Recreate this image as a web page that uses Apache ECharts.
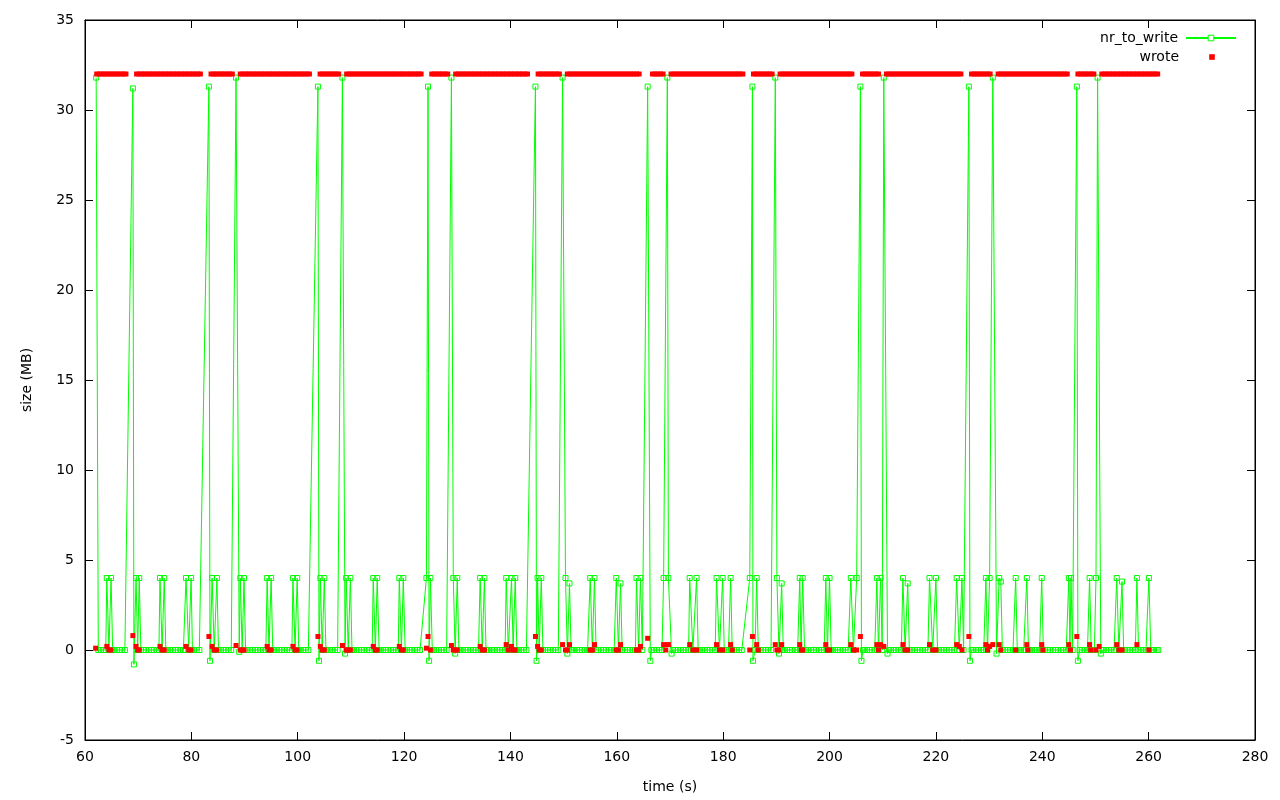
<!DOCTYPE html>
<html><head><meta charset="utf-8">
<script src="https://cdn.jsdelivr.net/npm/echarts@6/dist/echarts.min.js"></script>
<style>html,body{margin:0;padding:0;background:#fff}#c{width:1280px;height:800px}</style>
</head><body><div id="c"></div>
<script>
// axis ranges / ticks
const xRange = [60, 280, 20];
const yRange = [-5, 35, 5];
const seriesNames = ['nr_to_write', 'wrote'];

// nr_to_write (MB) : [time s, value]
const nrToWrite = [
[62.1,31.8],[62.5,0],[63.0,0],[63.5,0],[63.9,0],[64.1,4],[64.5,0],[64.9,4],[65.2,0],[65.5,0],[66.0,0],[66.5,0],[67.0,0],[67.5,0],
[69.0,31.2],[69.2,-0.8],[69.6,4],[69.9,0],[70.2,4],[70.5,0],[71.0,0],[71.5,0],[72.0,0],[72.5,0],[73.0,0],[73.5,0],[73.9,0],
[74.1,4],[74.5,0],[74.9,4],[75.2,0],[75.5,0],[76.0,0],[76.5,0],[77.0,0],[77.5,0],[78.0,0],[78.5,0],[78.8,0],
[79.0,4],[79.5,0],[79.95,4],[80.2,0],[80.5,0],[81.0,0],[81.5,0],
[83.3,31.3],[83.5,-0.6],[83.9,4],[84.3,0],[84.8,4],[85.1,0],[85.5,0],[86.0,0],[86.5,0],[87.0,0],[87.5,0],
[88.4,31.8],[89.0,-0.1],[89.2,4],[89.55,0],[89.9,4],[90.2,0],[90.5,0],[91.0,0],[91.5,0],[92.0,0],[92.5,0],[93.0,0],[93.5,0],[94.0,0],
[94.25,4],[94.6,0],[95.0,4],[95.3,0],[95.6,0],[96.0,0],[96.5,0],[97.0,0],[97.5,0],[98.0,0],[98.5,0],[98.9,0],
[99.1,4],[99.5,0],[99.9,4],[100.2,0],[100.5,0],[101.0,0],[101.5,0],[102.0,0],
[103.8,31.3],[104.0,-0.6],[104.25,4],[104.6,0],[105.0,4],[105.3,0],[105.6,0],[106.0,0],[106.5,0],[107.0,0],[107.5,0],
[108.4,31.8],[108.9,-0.2],[109.1,4],[109.5,0],[109.9,4],[110.2,0],[110.5,0],[111.0,0],[111.5,0],[112.0,0],[112.5,0],[113.0,0],[113.5,0],[114.0,0],
[114.2,4],[114.6,0],[114.95,4],[115.3,0],[115.6,0],[116.0,0],[116.5,0],[117.0,0],[117.5,0],[118.0,0],[118.5,0],[118.9,0],
[119.1,4],[119.5,0],[119.85,4],[120.2,0],[120.5,0],[121.0,0],[121.5,0],[122.0,0],[122.5,0],[123.0,0],
[124.2,4],[124.5,31.3],[124.7,-0.6],[124.95,4],[125.3,0],[125.6,0],[126.0,0],[126.5,0],[127.0,0],[127.5,0],[128.0,0],
[128.9,31.8],[129.25,4],[129.6,-0.2],[130.0,4],[130.3,0],[130.6,0],[131.0,0],[131.5,0],[132.0,0],[132.5,0],[133.0,0],[133.5,0],[134.0,0],
[134.3,4],[134.7,0],[135.1,4],[135.4,0],[135.7,0],[136.0,0],[136.5,0],[137.0,0],[137.5,0],[138.0,0],[138.5,0],[139.0,0],
[139.2,4],[139.6,0],[140.2,4],[140.5,0],[140.9,4],[141.2,0],[141.5,0],[142.0,0],[142.5,0],[143.0,0],
[144.7,31.3],[144.9,-0.6],[145.1,4],[145.4,0],[145.8,4],[146.1,0],[146.5,0],[147.0,0],[147.5,0],[148.0,0],[148.5,0],[149.0,0],
[149.8,31.8],[150.35,4],[150.7,-0.2],[151.1,3.7],[151.4,0],[151.7,0],[152.0,0],[152.5,0],[153.0,0],[153.5,0],[154.0,0],[154.5,0],[154.8,0],
[155.0,4],[155.4,0],[155.8,4],[156.1,0],[156.5,0],[157.0,0],[157.5,0],[158.0,0],[158.5,0],[159.0,0],[159.5,0],[159.7,0],
[159.9,4],[160.3,0],[160.7,3.7],[161.0,0],[161.5,0],[162.0,0],[162.5,0],[163.0,0],[163.5,0],
[163.7,4],[164.1,0],[164.45,4],[164.8,0],
[165.8,31.3],[166.3,-0.6],[166.5,0],[167.0,0],[167.5,0],[168.0,0],[168.5,0],
[168.8,4],[169.5,31.8],[169.7,4],[170.3,-0.2],[170.5,0],[171.0,0],[171.5,0],[172.0,0],[172.5,0],[173.0,0],[173.5,0],
[173.7,4],[174.3,0],[175.0,4],[175.3,0],[175.6,0],[176.0,0],[176.5,0],[177.0,0],[177.5,0],[178.0,0],[178.5,0],
[178.75,4],[179.3,0],[179.9,4],[180.2,0],[180.5,0],[181.0,0],[181.4,4],[181.7,0],[182.0,0],[182.5,0],[183.0,0],[183.5,0],
[185.0,4],[185.5,31.3],[185.6,-0.6],[186.0,0],[186.3,4],[186.6,0],[187.0,0],[187.5,0],[188.0,0],[188.5,0],[189.0,0],
[189.8,31.8],[190.1,4],[190.5,-0.2],[191.0,3.7],[191.3,0],[191.6,0],[192.0,0],[192.5,0],[193.0,0],[193.5,0],[194.0,0],
[194.4,4],[194.65,0],[194.95,4],[195.3,0],[195.6,0],[196.0,0],[196.5,0],[197.0,0],[197.5,0],[198.0,0],[198.5,0],[199.0,0],
[199.3,4],[199.6,0],[200.0,4],[200.3,0],[200.6,0],[201.0,0],[201.5,0],[202.0,0],[202.5,0],[203.0,0],[203.5,0],
[204.0,4],[204.5,0],[205.1,4],[205.8,31.3],[206.0,-0.6],[206.3,0],[206.6,0],[207.0,0],[207.5,0],[208.0,0],[208.5,0],
[208.9,4],[209.2,0],[209.6,4],[209.9,0],[210.2,31.8],[210.9,-0.2],[211.2,0],[211.5,0],[212.0,0],[212.5,0],[213.0,0],[213.5,0],
[213.8,4],[214.2,0],[214.7,3.7],[215.0,0],[215.5,0],[216.0,0],[216.5,0],[217.0,0],[217.5,0],[218.0,0],[218.5,0],
[218.8,4],[219.4,0],[220.0,4],[220.3,0],[220.6,0],[221.0,0],[221.5,0],[222.0,0],[222.5,0],[223.0,0],[223.5,0],
[223.9,4],[224.4,0],[224.9,4],[225.2,0],
[226.2,31.3],[226.4,-0.6],[226.7,0],[227.0,0],[227.5,0],[228.0,0],[228.5,0],[229.0,0],
[229.4,4],[229.7,0],[230.1,4],[230.7,31.8],[231.4,-0.2],[231.9,4],[232.2,3.8],[232.5,0],[233.0,0],[233.5,0],[234.0,0],[234.5,0],[234.8,0],
[235.0,4],[235.3,0],[235.6,0],[236.0,0],[236.5,0],[236.8,0],
[237.1,4],[237.4,0],[237.7,0],[238.0,0],[238.5,0],[239.0,0],[239.5,0],[239.7,0],
[239.9,4],[240.2,0],[240.5,0],[241.0,0],[241.5,0],[242.0,0],[242.5,0],[243.0,0],[243.5,0],[244.0,0],[244.5,0],[244.8,0],
[245.0,4],[245.2,0],[245.4,4],[245.7,0],
[246.5,31.3],[246.7,-0.6],[247.0,0],[247.5,0],[248.0,0],[248.5,0],[248.7,0],
[248.9,4],[249.2,0],[249.5,0],[249.8,0],[250.1,4],[250.4,31.8],[251.0,-0.2],[251.3,0],[251.5,0],[252.0,0],[252.5,0],[253.0,0],[253.5,0],[253.8,0],
[254.0,4],[254.4,0],[255.0,3.8],[255.3,0],[255.6,0],[256.0,0],[256.5,0],[257.0,0],[257.5,0],
[257.8,4],[258.1,0],[258.5,0],[259.0,0],[259.5,0],[259.8,0],
[260.05,4],[260.4,0],[260.7,0],[261.0,0],[261.5,0],[261.8,0]
];

// wrote (MB), full-size chunks : [time s, value]
const wroteFull = [
[62.2,32],[62.7,32],[63.2,32],[63.7,32],[64.2,32],[64.7,32],[65.2,32],[65.7,32],[66.2,32],[66.7,32],
[67.2,32],[67.7,32],[69.7,32],[70.2,32],[70.7,32],[71.2,32],[71.7,32],
[72.2,32],[72.7,32],[73.2,32],[73.7,32],[74.2,32],[74.7,32],[75.2,32],[75.7,32],[76.2,32],[76.7,32],
[77.2,32],[77.7,32],[78.2,32],[78.7,32],[79.2,32],[79.7,32],[80.2,32],[80.7,32],[81.2,32],[81.7,32],
[83.7,32],[84.2,32],[84.7,32],[85.2,32],[85.7,32],[86.2,32],[86.7,32],
[87.2,32],[87.7,32],[89.2,32],[89.7,32],[90.2,32],[90.7,32],[91.2,32],[91.7,32],
[92.2,32],[92.7,32],[93.2,32],[93.7,32],[94.2,32],[94.7,32],[95.2,32],[95.7,32],[96.2,32],[96.7,32],
[97.2,32],[97.7,32],[98.2,32],[98.7,32],[99.2,32],[99.7,32],[100.2,32],[100.7,32],[101.2,32],[101.7,32],
[102.2,32],[104.2,32],[104.7,32],[105.2,32],[105.7,32],[106.2,32],[106.7,32],
[107.2,32],[107.7,32],[109.2,32],[109.7,32],[110.2,32],[110.7,32],[111.2,32],[111.7,32],
[112.2,32],[112.7,32],[113.2,32],[113.7,32],[114.2,32],[114.7,32],[115.2,32],[115.7,32],[116.2,32],[116.7,32],
[117.2,32],[117.7,32],[118.2,32],[118.7,32],[119.2,32],[119.7,32],[120.2,32],[120.7,32],[121.2,32],[121.7,32],
[122.2,32],[122.7,32],[123.2,32],[125.2,32],[125.7,32],[126.2,32],[126.7,32],
[127.2,32],[127.7,32],[128.2,32],[129.7,32],[130.2,32],[130.7,32],[131.2,32],[131.7,32],
[132.2,32],[132.7,32],[133.2,32],[133.7,32],[134.2,32],[134.7,32],[135.2,32],[135.7,32],[136.2,32],[136.7,32],
[137.2,32],[137.7,32],[138.2,32],[138.7,32],[139.2,32],[139.7,32],[140.2,32],[140.7,32],[141.2,32],[141.7,32],
[142.2,32],[142.7,32],[143.2,32],[145.2,32],[145.7,32],[146.2,32],[146.7,32],
[147.2,32],[147.7,32],[148.2,32],[148.7,32],[149.2,32],[150.7,32],[151.2,32],[151.7,32],
[152.2,32],[152.7,32],[153.2,32],[153.7,32],[154.2,32],[154.7,32],[155.2,32],[155.7,32],[156.2,32],[156.7,32],
[157.2,32],[157.7,32],[158.2,32],[158.7,32],[159.2,32],[159.7,32],[160.2,32],[160.7,32],[161.2,32],[161.7,32],
[162.2,32],[162.7,32],[163.2,32],[163.7,32],[164.2,32],[166.7,32],
[167.2,32],[167.7,32],[168.2,32],[168.7,32],[170.2,32],[170.7,32],[171.2,32],[171.7,32],
[172.2,32],[172.7,32],[173.2,32],[173.7,32],[174.2,32],[174.7,32],[175.2,32],[175.7,32],[176.2,32],[176.7,32],
[177.2,32],[177.7,32],[178.2,32],[178.7,32],[179.2,32],[179.7,32],[180.2,32],[180.7,32],[181.2,32],[181.7,32],
[182.2,32],[182.7,32],[183.2,32],[183.7,32],[185.7,32],[186.2,32],[186.7,32],
[187.2,32],[187.7,32],[188.2,32],[188.7,32],[189.2,32],[190.7,32],[191.2,32],[191.7,32],
[192.2,32],[192.7,32],[193.2,32],[193.7,32],[194.2,32],[194.7,32],[195.2,32],[195.7,32],[196.2,32],[196.7,32],
[197.2,32],[197.7,32],[198.2,32],[198.7,32],[199.2,32],[199.7,32],[200.2,32],[200.7,32],[201.2,32],[201.7,32],
[202.2,32],[202.7,32],[203.2,32],[203.7,32],[204.2,32],[206.2,32],[206.7,32],
[207.2,32],[207.7,32],[208.2,32],[208.7,32],[209.2,32],[210.7,32],[211.2,32],[211.7,32],
[212.2,32],[212.7,32],[213.2,32],[213.7,32],[214.2,32],[214.7,32],[215.2,32],[215.7,32],[216.2,32],[216.7,32],
[217.2,32],[217.7,32],[218.2,32],[218.7,32],[219.2,32],[219.7,32],[220.2,32],[220.7,32],[221.2,32],[221.7,32],
[222.2,32],[222.7,32],[223.2,32],[223.7,32],[224.2,32],[224.7,32],[226.7,32],
[227.2,32],[227.7,32],[228.2,32],[228.7,32],[229.2,32],[229.7,32],[230.2,32],[231.7,32],
[232.2,32],[232.7,32],[233.2,32],[233.7,32],[234.2,32],[234.7,32],[235.2,32],[235.7,32],[236.2,32],[236.7,32],
[237.2,32],[237.7,32],[238.2,32],[238.7,32],[239.2,32],[239.7,32],[240.2,32],[240.7,32],[241.2,32],[241.7,32],
[242.2,32],[242.7,32],[243.2,32],[243.7,32],[244.2,32],[244.7,32],[246.7,32],
[247.2,32],[247.7,32],[248.2,32],[248.7,32],[249.2,32],[249.7,32],[251.2,32],[251.7,32],
[252.2,32],[252.7,32],[253.2,32],[253.7,32],[254.2,32],[254.7,32],[255.2,32],[255.7,32],[256.2,32],[256.7,32],
[257.2,32],[257.7,32],[258.2,32],[258.7,32],[259.2,32],[259.7,32],[260.2,32],[260.7,32],[261.2,32],[261.7,32]
];

// wrote (MB), small chunks : [time s, value]
const wroteSmall = [
[62.0,0.1],
[64.1,0.2],[64.5,0],[64.9,0],
[69.0,0.8],[69.6,0.2],[69.9,0],[70.2,0],
[74.1,0.2],[74.5,0],[74.9,0],
[79.0,0.2],[79.5,0],[79.95,0],
[83.3,0.75],[83.9,0.2],[84.3,0],[84.8,0],
[88.4,0.25],[89.2,0],[89.55,0],[89.9,0],
[94.25,0.2],[94.6,0],[95.0,0],
[99.1,0.2],[99.5,0],[99.9,0],
[103.8,0.75],[104.25,0.2],[104.6,0],[105.0,0],
[108.4,0.25],[109.1,0],[109.5,0],[109.9,0],
[114.2,0.2],[114.6,0],[114.95,0],
[119.1,0.2],[119.5,0],[119.85,0],
[124.2,0.1],[124.5,0.75],[124.95,0],
[128.9,0.25],[129.25,0],[129.6,0],[130.0,0],
[134.3,0.2],[134.7,0],[135.1,0],
[139.2,0.3],[139.6,0],[140.2,0.2],[140.5,0],[140.9,0],
[144.7,0.75],[145.1,0.2],[145.4,0],[145.8,0],
[149.8,0.3],[150.35,0],[150.7,0],[151.1,0.3],
[155.0,0],[155.4,0],[155.8,0.3],
[159.9,0],[160.3,0],[160.7,0.3],
[163.7,0],[164.1,0],[164.45,0.2],
[165.8,0.65],
[168.8,0.3],[169.2,0],[169.7,0.3],
[173.7,0.3],[174.3,0],[175.0,0],
[178.75,0.3],[179.3,0],[179.9,0],[181.4,0.3],[181.7,0],
[185.0,0],[185.5,0.75],[186.3,0.3],[186.6,0],
[189.8,0.3],[190.1,0],[190.5,0],[191.0,0.3],
[194.4,0.3],[194.7,0],[194.95,0],
[199.3,0.3],[199.6,0],[200.0,0],
[204.0,0.3],[204.5,0],[205.1,0],[205.8,0.75],
[208.9,0.3],[209.2,0],[209.6,0.3],[210.2,0.2],
[213.8,0.3],[214.2,0],[214.7,0],
[218.8,0.3],[219.4,0],[220.0,0],
[223.9,0.3],[224.4,0.2],[224.9,0],
[226.2,0.75],
[229.4,0.3],[229.7,0],[230.1,0.2],[230.7,0.3],
[231.9,0.3],[232.2,0],
[235.0,0],
[237.1,0.3],[237.3,0],
[239.9,0.3],[240.1,0],
[245.0,0.3],[245.3,0],
[246.5,0.75],
[248.9,0.3],[249.1,0],
[250.1,0],[250.7,0.2],
[254.0,0.3],[254.4,0],[255.0,0],
[257.8,0.3],
[260.05,0]
];

const FONT = '"DejaVu Sans", sans-serif';
const txt = {color:'#000', fontFamily:FONT, fontSize:14};
const chart = echarts.init(document.getElementById('c'));
const axisLine = {show:true, onZero:false, lineStyle:{color:'#000', width:1}};
const axisTick = {show:true, inside:true, length:8, lineStyle:{color:'#000', width:1}};
const hiddenLine = {color:'#ff0000', width:0, opacity:0};
chart.setOption({
  animation:false,
  backgroundColor:'#fff',
  grid:{left:85, right:25, top:20, bottom:60, show:true, borderColor:'#000', borderWidth:1, backgroundColor:'transparent'},
  xAxis:[
    {type:'value', min:xRange[0], max:xRange[1], interval:xRange[2], position:'bottom',
     axisLine, axisTick, splitLine:{show:false},
     axisLabel:Object.assign({margin:10}, txt),
     name:'time (s)', nameLocation:'middle', nameGap:40, nameTextStyle:txt},
    {type:'value', min:xRange[0], max:xRange[1], interval:xRange[2], position:'top',
     axisLine, axisTick, splitLine:{show:false}, axisLabel:{show:false}}
  ],
  yAxis:[
    {type:'value', min:yRange[0], max:yRange[1], interval:yRange[2], position:'left',
     axisLine, axisTick, splitLine:{show:false},
     axisLabel:Object.assign({margin:11}, txt),
     name:'size (MB)', nameLocation:'middle', nameGap:51, nameTextStyle:txt},
    {type:'value', min:yRange[0], max:yRange[1], interval:yRange[2], position:'right',
     axisLine, axisTick, splitLine:{show:false}, axisLabel:{show:false}}
  ],
  legend:[
    {data:[{name:seriesNames[0], itemStyle:{color:'#ffffff', borderColor:'#00ff00', borderWidth:1}}],
     right:43, top:31, padding:0, align:'right', orient:'vertical',
     itemWidth:50, itemHeight:7, itemGap:0, selectedMode:false,
     textStyle:Object.assign({padding:[0,3,0,0]}, txt)},
    {data:[seriesNames[1]], right:43, top:50, padding:0, align:'right', orient:'vertical',
     itemWidth:50, itemHeight:7, itemGap:0, selectedMode:false,
     textStyle:Object.assign({padding:[0,3,0,0]}, txt)}
  ],
  series:[
    {name:seriesNames[0], type:'line', data:nrToWrite, showSymbol:true, showAllSymbol:true,
     symbol:'rect', symbolSize:5,
     lineStyle:{color:'#00ff00', width:1},
     itemStyle:{color:'rgba(0,0,0,0)', borderColor:'#00ff00', borderWidth:1},
     z:2},
    {name:seriesNames[1], type:'line', data:wroteFull, showSymbol:true, showAllSymbol:true,
     symbol:'rect', symbolSize:5, lineStyle:hiddenLine,
     itemStyle:{color:'#ff0000'}, z:3},
    {name:seriesNames[1], type:'line', data:wroteSmall, showSymbol:true, showAllSymbol:true,
     symbol:'rect', symbolSize:5, lineStyle:hiddenLine,
     itemStyle:{color:'#ff0000'}, z:3}
  ]
});
</script>
</body></html>
